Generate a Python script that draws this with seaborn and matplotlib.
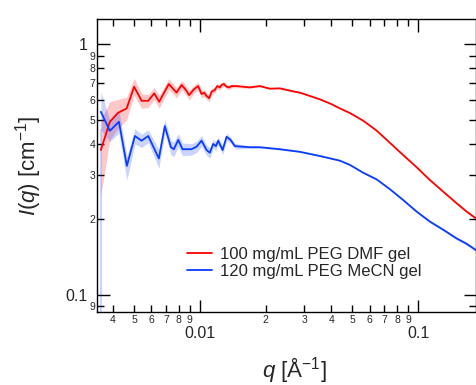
import numpy as np
import pandas as pd
import seaborn as sns
import matplotlib.pyplot as plt
from matplotlib.ticker import LogLocator, FuncFormatter

# -------------------------------------------------
# Data (q in 1/A, I in 1/cm)
# -------------------------------------------------
q_dmf = [0.00352, 0.00387, 0.00422, 0.00462, 0.00500, 0.00541, 0.00580, 0.00618, 0.00651,
         0.00721, 0.00782, 0.00825, 0.00863, 0.00893, 0.00939, 0.00982, 0.01018, 0.01046,
         0.01073, 0.01103, 0.01131, 0.01171, 0.01200, 0.01235, 0.01257, 0.01288, 0.01325,
         0.01362, 0.01397, 0.01473, 0.01694, 0.01883, 0.02093, 0.02325, 0.02584, 0.02872,
         0.03191, 0.03546, 0.03941, 0.04379, 0.04866, 0.05598, 0.06448, 0.07420, 0.08535,
         0.09833, 0.1132, 0.1302, 0.1500, 0.1666, 0.1838]
i_dmf = [0.378, 0.490, 0.532, 0.554, 0.676, 0.594, 0.594, 0.636, 0.589,
         0.693, 0.640, 0.687, 0.656, 0.626, 0.660, 0.680, 0.632, 0.640,
         0.621, 0.608, 0.646, 0.656, 0.680, 0.672, 0.687, 0.693, 0.676,
         0.672, 0.680, 0.680, 0.672, 0.680, 0.664, 0.666, 0.652, 0.640,
         0.621, 0.602, 0.580, 0.554, 0.531, 0.495, 0.452, 0.404, 0.361,
         0.323, 0.287, 0.258, 0.232, 0.215, 0.202]
err_dmf = [0.12, 0.10, 0.07, 0.06, 0.054, 0.04, 0.035, 0.035, 0.035,
           0.035, 0.03, 0.03, 0.028, 0.028, 0.025, 0.025, 0.022, 0.022,
           0.02, 0.02, 0.02, 0.018, 0.018, 0.016, 0.016, 0.015, 0.014,
           0.013, 0.012, 0.01, 0.006, 0.005, 0.004, 0.004, 0.003, 0.003,
           0.003, 0.002, 0.002, 0.002, 0.002, 0.002, 0.002, 0.002, 0.002,
           0.002, 0.002, 0.002, 0.002, 0.002, 0.002]
# lower side differs at the first few points
err_dmf_lo = [0.128, 0.075, 0.071, 0.056, 0.05] + err_dmf[5:]

q_mecn = [0.00352, 0.00387, 0.00426, 0.00463, 0.00504, 0.00541, 0.00580, 0.00649, 0.00691,
          0.00737, 0.00760, 0.00796, 0.00833, 0.00916, 0.00966, 0.01018, 0.01073, 0.01111,
          0.01151, 0.01184, 0.01213, 0.01271, 0.01325, 0.01382, 0.01447, 0.01694, 0.01883,
          0.02325, 0.02872, 0.03546, 0.04379, 0.04866, 0.05598, 0.06448, 0.07420, 0.08535,
          0.09833, 0.1132, 0.1302, 0.1500, 0.1666, 0.1838]
i_mecn = [0.537, 0.451, 0.490, 0.327, 0.430, 0.412, 0.430, 0.350, 0.471,
          0.388, 0.381, 0.415, 0.381, 0.381, 0.390, 0.412, 0.378, 0.369,
          0.400, 0.392, 0.412, 0.378, 0.427, 0.415, 0.392, 0.388, 0.388,
          0.381, 0.372, 0.358, 0.343, 0.330, 0.307, 0.289, 0.264, 0.239,
          0.215, 0.196, 0.182, 0.168, 0.160, 0.151]
err_mecn = [0.11, 0.047, 0.056, 0.029, 0.03, 0.025, 0.025, 0.03, 0.03,
            0.025, 0.025, 0.025, 0.022, 0.02, 0.02, 0.02, 0.018, 0.018,
            0.016, 0.016, 0.015, 0.015, 0.014, 0.012, 0.01, 0.004, 0.003,
            0.003, 0.002, 0.002, 0.002, 0.002, 0.002, 0.002, 0.002, 0.002,
            0.002, 0.002, 0.002, 0.002, 0.002, 0.002]
err_mecn_lo = [0.08, 0.043, 0.048, 0.04] + err_mecn[4:]

labels = ["100 mg/mL PEG DMF gel", "120 mg/mL PEG MeCN gel"]
colors = ["#ff0000", "#0a3cff"]

df = pd.concat([
    pd.DataFrame({"q": q_dmf, "I": i_dmf, "hi": err_dmf, "lo": err_dmf_lo,
                  "sample": labels[0]}),
    pd.DataFrame({"q": q_mecn, "I": i_mecn, "hi": err_mecn, "lo": err_mecn_lo,
                  "sample": labels[1]}),
])

# -------------------------------------------------
# Style
# -------------------------------------------------
sns.set_theme(style="ticks")
plt.rcParams["font.family"] = ["Liberation Sans", "DejaVu Sans"]
plt.rcParams["mathtext.fontset"] = "custom"
plt.rcParams["mathtext.rm"] = "Liberation Sans"
plt.rcParams["mathtext.it"] = "Liberation Sans:italic"

fig = plt.figure(figsize=(4.76, 3.85), dpi=100)
ax = fig.add_axes([0.2044, 0.1904, 0.7946, 0.7602])

ax.set_xscale("log")
ax.set_yscale("log")
ymin, ymax = 0.0858, 1.258

# error bands
for lab, col in zip(labels, colors):
    d = df[df["sample"] == lab]
    ax.fill_between(d["q"], d["I"] - d["lo"], d["I"] + d["hi"],
                    color=col, alpha=0.22, lw=0)
# the first MeCN point's lower error runs off the bottom of the plot
ax.vlines(q_mecn[0], ymin, i_mecn[0] - err_mecn_lo[0], color=colors[1],
          alpha=0.22, lw=1.5)

sns.lineplot(data=df, x="q", y="I", hue="sample", palette=colors,
             estimator=None, sort=False, lw=1.3, ax=ax)

ax.set_xlim(0.00339, 0.183)
ax.set_ylim(ymin, ymax)

# -------------------------------------------------
# Ticks: inward on all sides, labelled minors
# -------------------------------------------------
def major_fmt(v, pos):
    return f"{v:g}"

def minor_fmt(v, pos):
    e = np.floor(np.log10(v) + 1e-9)
    return str(int(round(v / 10 ** e)))

for axis in (ax.xaxis, ax.yaxis):
    axis.set_major_locator(LogLocator(base=10, numticks=10))
    axis.set_minor_locator(LogLocator(base=10, subs=np.arange(2, 10), numticks=20))
    axis.set_major_formatter(FuncFormatter(major_fmt))
    axis.set_minor_formatter(FuncFormatter(minor_fmt))

ax.tick_params(which="both", direction="in", top=True, right=True,
               color="black", width=1.0)
ax.tick_params(which="major", length=9)
ax.tick_params(which="minor", length=5)
ax.tick_params(axis="x", which="major", labelsize=11.5, pad=10.5)
ax.tick_params(axis="x", which="minor", labelsize=7.5, pad=2.5)
ax.tick_params(axis="y", which="major", labelsize=11.5, pad=7)
ax.tick_params(axis="y", which="minor", labelsize=7.5, pad=1.5)

for s in ax.spines.values():
    s.set_linewidth(1.0)
    s.set_color("black")

ax.set_xlabel(r"$q$ [Å$^{-1}$]", fontsize=16)
ax.set_ylabel(r"$I$($q$) [cm$^{-1}$]", fontsize=16)
ax.xaxis.set_label_coords(0.52, -0.15)
ax.yaxis.set_label_coords(-0.14, 0.5)

ax.legend(loc="center left", bbox_to_anchor=(0.237, 0.166), frameon=False,
          fontsize=12, handlelength=1.5, handletextpad=0.5,
          labelspacing=0.12, borderpad=0, borderaxespad=0)

fig.savefig("out.png", dpi=100)
